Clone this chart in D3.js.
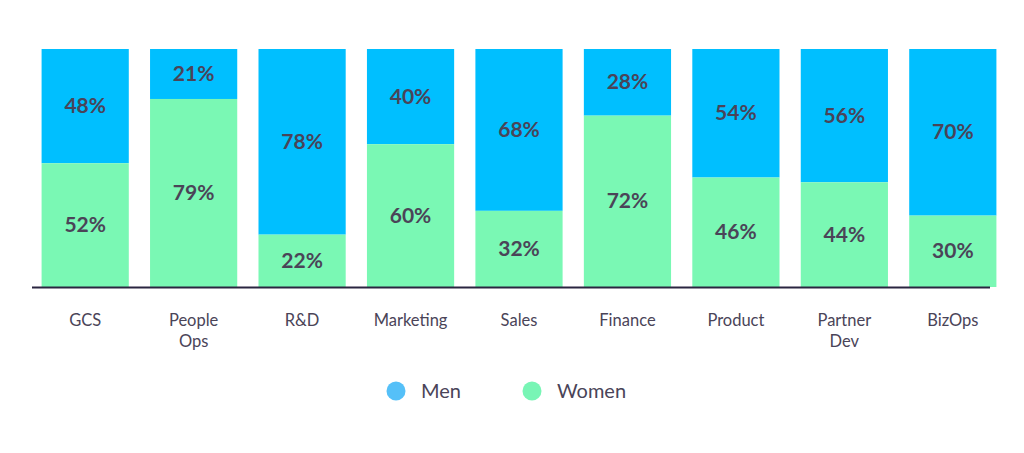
<!DOCTYPE html><html><head><meta charset="utf-8">
<script src="https://cdn.jsdelivr.net/npm/d3@7"></script>
<style>body{margin:0;background:#fff}</style></head><body><svg id="c" width="1024" height="453"></svg>
<script>
const categories=["GCS","People Ops","R&D","Marketing","Sales","Finance","Product","Partner Dev","BizOps"];
const categoryLines=[["GCS"],["People","Ops"],["R&D"],["Marketing"],["Sales"],["Finance"],["Product"],["Partner","Dev"],["BizOps"]];
const women=[52,79,22,60,32,72,46,44,30];
const men=[48,21,78,40,68,28,54,56,70];
const svg=d3.select("#c");
const x=d3.scaleBand().domain(categories).range([34,1004]).paddingInner(0.196).paddingOuter(0.07);
const y=d3.scaleLinear().domain([0,100]).range([287,49]);
const font="Lato, 'Open Sans', sans-serif";
const lab="#4a4458";
categories.forEach((c,i)=>{
  const g=svg.append("g");
  g.append("rect").attr("x",x(c)).attr("width",x.bandwidth()).attr("y",y(100)).attr("height",y(women[i])-y(100)).attr("fill","#00bfff");
  g.append("rect").attr("x",x(c)).attr("width",x.bandwidth()).attr("y",y(women[i])).attr("height",y(0)-y(women[i])).attr("fill","#7af8b4");
  const cx=x(c)+x.bandwidth()/2;
  g.append("text").attr("x",cx).attr("y",(y(100)+y(women[i]))/2+7).attr("text-anchor","middle").attr("font-family",font).attr("font-weight","bold").attr("font-size",21).attr("fill",lab).text(men[i]+"%");
  g.append("text").attr("x",cx).attr("y",(y(women[i])+y(0))/2+7).attr("text-anchor","middle").attr("font-family",font).attr("font-weight","bold").attr("font-size",21).attr("fill",lab).text(women[i]+"%");
  categoryLines[i].forEach((l,j)=>g.append("text").attr("x",cx).attr("y",326+j*21).attr("text-anchor","middle").attr("font-family",font).attr("font-size",16.5).attr("fill",lab).text(l));
});
svg.append("line").attr("x1",32).attr("x2",990).attr("y1",287.5).attr("y2",287.5).attr("stroke","#2a2540").attr("stroke-width",2);
[["Men","#55c0f8",396],["Women","#78f5b5",532]].forEach(([t,col,lx])=>{
  svg.append("circle").attr("cx",lx).attr("cy",391).attr("r",9.5).attr("fill",col);
  svg.append("text").attr("x",lx+25).attr("y",398).attr("font-family",font).attr("font-size",20).attr("fill",lab).text(t);
});
</script></body></html>
